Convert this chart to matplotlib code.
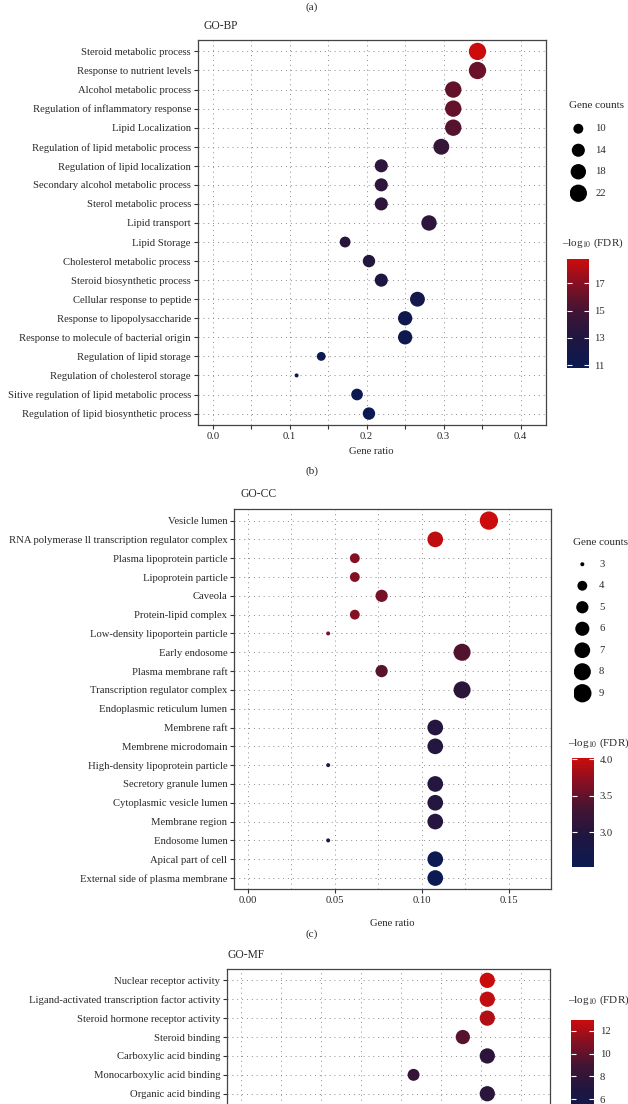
import numpy as np
import matplotlib
matplotlib.use("Agg")
import matplotlib.pyplot as plt
from matplotlib.colors import LinearSegmentedColormap, Normalize
from matplotlib.ticker import MultipleLocator, FuncFormatter

# ---------------- data ----------------
bp_terms = ["Steroid metabolic process", "Response to nutrient levels", "Alcohol metabolic process",
            "Regulation of inflammatory response", "Lipid Localization",
            "Regulation of lipid metabolic process", "Regulation of lipid localization",
            "Secondary alcohol metabolic process", "Sterol metabolic process", "Lipid transport",
            "Lipid Storage", "Cholesterol metabolic process", "Steroid biosynthetic process",
            "Cellular response to peptide", "Response to lipopolysaccharide",
            "Response to molecule of bacterial origin", "Regulation of lipid storage",
            "Regulation of cholesterol storage", "Sitive regulation of lipid metabolic process",
            "Regulation of lipid biosynthetic process"]
bp_ratio = [0.344, 0.344, 0.3125, 0.3125, 0.3125, 0.297, 0.219, 0.219, 0.219, 0.281,
            0.172, 0.203, 0.219, 0.266, 0.25, 0.25, 0.141, 0.109, 0.1875, 0.203]
bp_count = [22, 22, 20, 20, 20, 19, 14, 14, 14, 18, 11, 13, 14, 17, 16, 16, 9, 7, 12, 13]
bp_logfdr = [18.7, 16.2, 16.0, 16.0, 15.6, 14.3, 13.8, 13.8, 13.8, 13.8,
             13.6, 13.2, 12.8, 11.8, 11.3, 11.3, 11.0, 10.9, 10.9, 10.8]
bp_legend_counts = [10, 14, 18, 22]
bp_cbar_ticks = [11, 13, 15, 17]

cc_terms = ["Vesicle lumen", "RNA polymerase ll transcription regulator complex",
            "Plasma lipoprotein particle", "Lipoprotein particle", "Caveola",
            "Protein-lipid complex", "Low-density lipoportein particle", "Early endosome",
            "Plasma membrane raft", "Transcription regulator complex",
            "Endoplasmic reticulum lumen", "Membrene raft", "Membrene microdomain",
            "High-density lipoprotein particle", "Secretory granule lumen",
            "Cytoplasmic vesicle lumen", "Membrane region", "Endosome lumen",
            "Apical part of cell", "External side of plasma membrane"]
cc_ratio = [0.1385, 0.1077, 0.0615, 0.0615, 0.0769, 0.0615, 0.0462, 0.1231, 0.0769, 0.1231,
            np.nan, 0.1077, 0.1077, 0.0462, 0.1077, 0.1077, 0.1077, 0.0462, 0.1077, 0.1077]
cc_count = [9, 7, 4, 4, 5, 4, 3, 8, 5, 8, np.nan, 7, 7, 3, 7, 7, 7, 3, 7, 7]
cc_logfdr = [4.02, 3.95, 3.68, 3.68, 3.6, 3.68, 3.62, 3.4, 3.45, 3.08,
             np.nan, 3.0, 3.0, 3.0, 3.0, 3.0, 3.0, 2.65, 2.53, 2.53]
cc_legend_counts = [3, 4, 5, 6, 7, 8, 9]
cc_cbar_ticks = [3.0, 3.5, 4.0]

mf_terms = ["Nuclear receptor activity", "Ligand-activated transcription factor activity",
            "Steroid hormone receptor activity", "Steroid binding", "Carboxylic acid binding",
            "Monocarboxylic acid binding", "Organic acid binding"]
mf_ratio = [0.1538, 0.1538, 0.1538, 0.1385, 0.1538, 0.1077, 0.1538]
mf_count = [10, 10, 10, 9, 10, 7, 10]
mf_logfdr = [12.9, 12.6, 12.2, 9.6, 7.6, 8.1, 7.6]
mf_cbar_ticks = [6, 8, 10, 12]

# ---------------- style ----------------
W, H = 628, 1104
plt.rcParams['font.family'] = ['Liberation Serif', 'DejaVu Serif']
plt.rcParams['mathtext.fontset'] = 'stix'
TXT = '#2a2a2a'
FS = 7.7

cmap = LinearSegmentedColormap.from_list(
    "fdr", [(0.0, '#0b1a52'), (0.28, '#1f1640'), (0.53, '#421433'),
            (0.78, '#861022'), (1.0, '#cc0c0c')])

fig = plt.figure(figsize=(W / 100, H / 100), dpi=100)


def px_axes(x0, y0, x1, y1):
    return fig.add_axes([x0 / W, 1 - y1 / H, (x1 - x0) / W, (y1 - y0) / H])


def diam(c, cmin, cmax, dmin, dmax):
    c = np.asarray(c, dtype=float)
    return dmin + (dmax - dmin) * np.sqrt((c - cmin) / (cmax - cmin))


def size_pts(d):
    return (np.asarray(d) * 0.72) ** 2


def dot_panel(box, terms, ratio, count, logfdr, xlim, ylim, major, minor, fmt,
              norm, scale, show_xlabels=True):
    ax = px_axes(*box)
    y = np.arange(len(terms))
    d = diam(count, *scale)
    ax.scatter(ratio, y, s=size_pts(d), c=logfdr, cmap=cmap, norm=norm,
               linewidths=0, zorder=3)
    ax.set_xlim(*xlim)
    ax.set_ylim(*ylim)
    ax.set_yticks(y)
    ax.set_yticklabels(terms, fontsize=FS, color=TXT)
    ax.xaxis.set_major_locator(MultipleLocator(major))
    if minor:
        ax.xaxis.set_minor_locator(MultipleLocator(minor))
    ax.xaxis.set_major_formatter(FuncFormatter(fmt))
    ax.tick_params(axis='both', which='major', length=3, width=0.8, color='#333333',
                   labelsize=FS, labelcolor=TXT, pad=2)
    ax.tick_params(axis='x', which='minor', length=0)
    if not show_xlabels:
        ax.tick_params(axis='x', labelbottom=False)
    ax.grid(True, which='both', linestyle=(0, (1, 4)), linewidth=0.7, color='#8a8a8a')
    ax.set_axisbelow(True)
    for s in ax.spines.values():
        s.set_color('#444444')
        s.set_linewidth(0.9)
    return ax


def size_legend(x0, y0, x1, y1, counts, scale, title, tx, ty):
    lax = px_axes(x0, y0, x1, y1)
    yy = np.arange(len(counts))
    lax.scatter(np.zeros(len(counts)), yy, s=size_pts(diam(counts, *scale)),
                color='black', linewidths=0)
    for i, c in zip(yy, counts):
        lax.text(1.0, i, str(c), fontsize=FS, color=TXT, va='center', ha='left')
    lax.set_xlim(-0.5, 2.5)
    lax.set_ylim(len(counts) - 0.5, -0.5)
    lax.axis('off')
    fig.text(tx / W, 1 - ty / H, title, fontsize=FS + 0.3, color=TXT, va='center', ha='left')


def cbar(x0, y0, x1, y1, norm, ticks, fmt, tx, ty):
    cax = px_axes(x0, y0, x1, y1)
    sm = matplotlib.cm.ScalarMappable(norm=norm, cmap=cmap)
    cb = fig.colorbar(sm, cax=cax)
    cb.outline.set_visible(False)
    cb.set_ticks(ticks)
    cb.set_ticklabels([fmt(t) for t in ticks])
    cax.tick_params(axis='y', which='both', left=True, right=True, direction='in',
                    length=3.5, width=0.8, color='white', labelsize=FS,
                    labelcolor=TXT, pad=4)
    fig.text(tx / W, 1 - ty / H, r"–log$_{10}$ (FDR)", fontsize=FS + 0.3, color=TXT,
             va='center', ha='left')


# ---------------- panel (a) BP ----------------
fig.text(312 / W, 1 - 7 / H, "(a)", fontsize=FS + 0.4, color=TXT, ha='center', va='center')
fig.text(204 / W, 1 - 26 / H, "GO-BP", fontsize=FS + 0.6, color=TXT, ha='left', va='center')
bp_norm = Normalize(10.78, 18.76)
bp_scale = (7, 22, 4.0, 17.3)
ax1 = dot_panel((197.7, 40, 546, 425), bp_terms, bp_ratio, bp_count, bp_logfdr,
                (-0.0195, 0.433), (19.6, -0.6), 0.05, None,
                lambda v, p: f"{v:.1f}" if abs(round(v * 10) - v * 10) < 1e-6 else "",
                bp_norm, bp_scale)
fig.text(371 / W, 1 - 451 / H, "Gene ratio", fontsize=FS, color=TXT, ha='center', va='center')
size_legend(570, 118, 620, 204, bp_legend_counts, bp_scale, "Gene counts", 569, 106)
cbar(566.7, 259.3, 588.7, 368.3, bp_norm, bp_cbar_ticks, lambda t: f"{t:d}", 562, 243)

# ---------------- panel (b) CC ----------------
fig.text(312 / W, 1 - 471 / H, "(b)", fontsize=FS + 0.4, color=TXT, ha='center', va='center')
fig.text(240 / W, 1 - 494 / H, "GO-CC", fontsize=FS + 0.6, color=TXT, ha='left', va='center')
cc_norm = Normalize(2.52, 4.02)
cc_scale = (3, 9, 4.0, 18.3)
ax2 = dot_panel((234.3, 509.3, 550.7, 889.3), cc_terms, cc_ratio, cc_count, cc_logfdr,
                (-0.0077, 0.174), (19.6, -0.6), 0.05, 0.025,
                lambda v, p: f"{v:.2f}", cc_norm, cc_scale)
fig.text(392.7 / W, 1 - 923 / H, "Gene ratio", fontsize=FS, color=TXT, ha='center', va='center')
size_legend(574, 553.5, 624, 704, cc_legend_counts, cc_scale, "Gene counts", 573, 542)
cbar(572.3, 757.7, 594.3, 867.3, cc_norm, cc_cbar_ticks, lambda t: f"{t:.1f}", 568, 743)

# ---------------- panel (c) MF ----------------
fig.text(312 / W, 1 - 934 / H, "(c)", fontsize=FS + 0.4, color=TXT, ha='center', va='center')
fig.text(228 / W, 1 - 955 / H, "GO-MF", fontsize=FS + 0.6, color=TXT, ha='left', va='center')
mf_norm = Normalize(4.5, 12.94)
mf_scale = (4, 12, 4.0, 17.0)
mf_bottom = H + 40
ax3 = dot_panel((227.2, 969, 550, mf_bottom), mf_terms, mf_ratio, mf_count, mf_logfdr,
                (-0.0088, 0.193), (-0.6 + (mf_bottom - 969) / 18.9, -0.6), 0.05, 0.025,
                lambda v, p: f"{v:.2f}", mf_norm, mf_scale, show_xlabels=False)
cbar(571, 1020, 594, 1020 + (12.94 - 4.5) * 11.4, mf_norm, mf_cbar_ticks,
     lambda t: f"{t:d}", 568, 1000)

fig.savefig("out.png", dpi=100, facecolor='white')
